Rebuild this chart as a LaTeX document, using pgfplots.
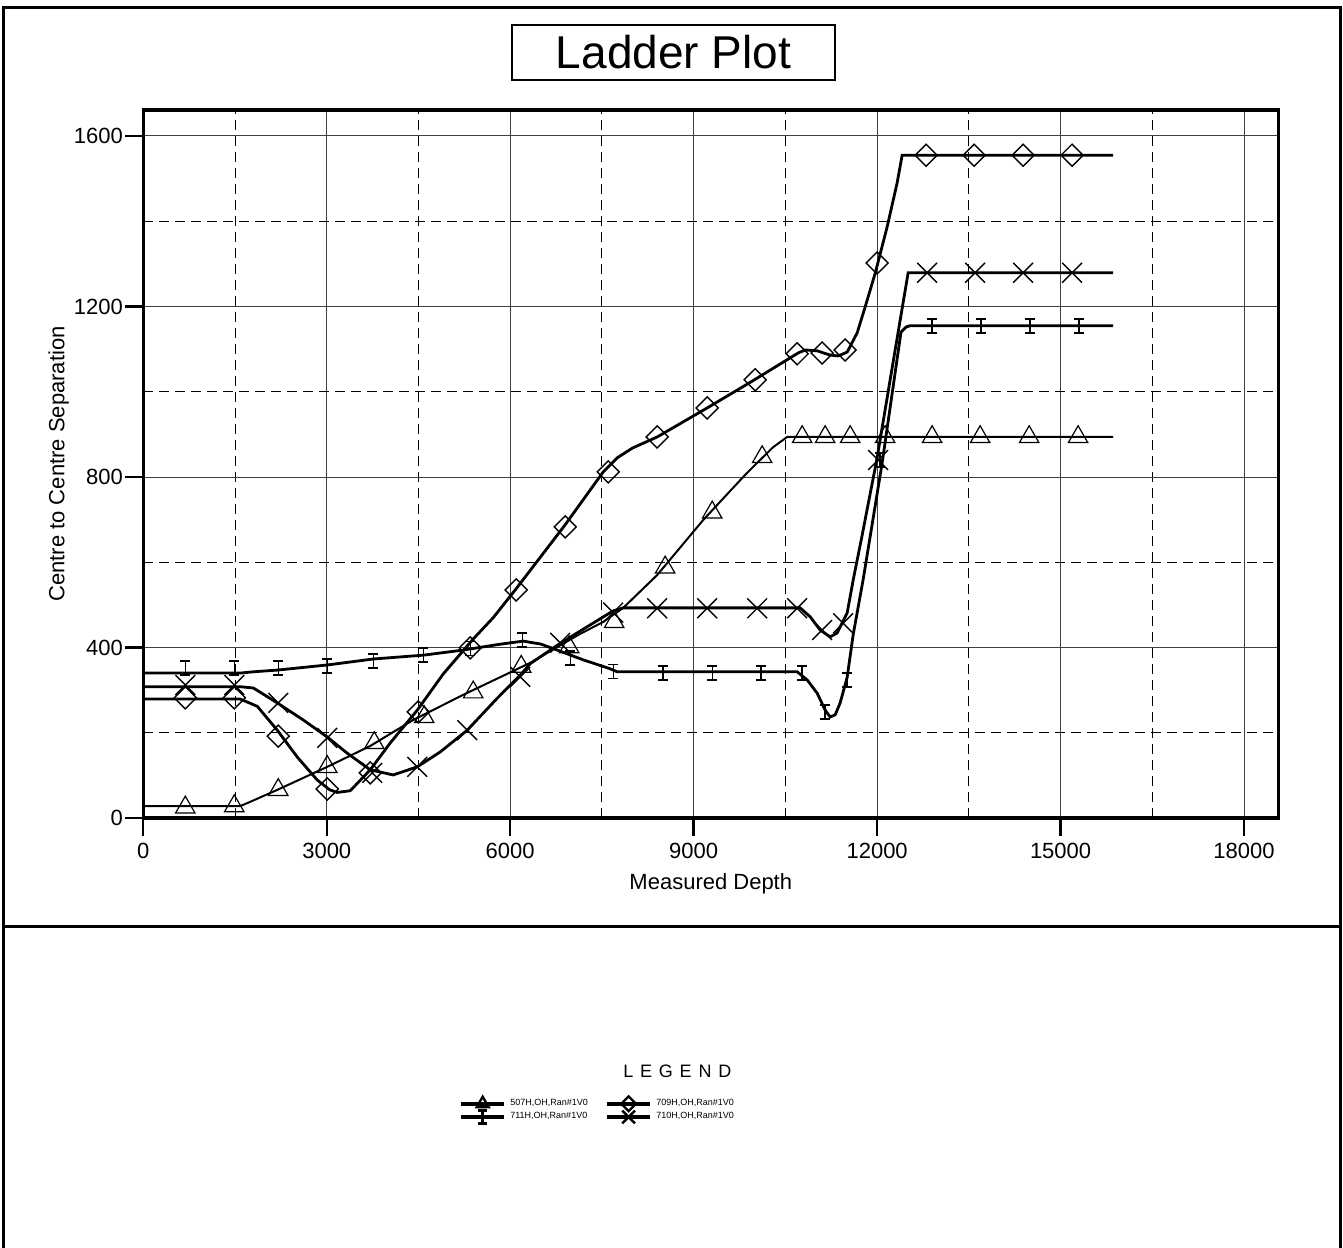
\documentclass[border=0pt]{standalone}
\usepackage{fontspec}
\setmainfont{Liberation Sans}
\usepackage{pgfplots}
\usepackage{pgfplotstable}
\pgfplotsset{compat=1.18}

\pgfdeclareplotmark{ibar}{%
  \pgfpathmoveto{\pgfqpoint{0pt}{-\pgfplotmarksize}}%
  \pgfpathlineto{\pgfqpoint{0pt}{\pgfplotmarksize}}%
  \pgfpathmoveto{\pgfqpoint{-0.7\pgfplotmarksize}{\pgfplotmarksize}}%
  \pgfpathlineto{\pgfqpoint{0.7\pgfplotmarksize}{\pgfplotmarksize}}%
  \pgfpathmoveto{\pgfqpoint{-0.7\pgfplotmarksize}{-\pgfplotmarksize}}%
  \pgfpathlineto{\pgfqpoint{0.7\pgfplotmarksize}{-\pgfplotmarksize}}%
  \pgfusepathqstroke}

% 709H (diamonds)
\pgfplotstableread{
x y
0 279
1586 279
1864 262
2191 206
2518 143
2845 89
3050 66
3172 60
3384 64
3711 113
4038 176
4480 253
4905 338
5395 420
5722 470
6098 538
6899 688
7521 812
7750 845
8000 868
8404 894
9221 962
9924 1022
10709 1091
10823 1098
11019 1096
11232 1086
11363 1084
11510 1093
11673 1138
11804 1199
11968 1278
12164 1387
12327 1490
12409 1555
15859 1555
}\diamline
\pgfplotstableread{
x y
687 282
1488 282
2207 192
3008 68
3711 106
4496 249
5346 399
6098 535
6899 683
7602 812
8403 894
9221 962
10006 1028
10692 1089
11101 1091
11477 1098
12000 1302
12801 1555
13586 1555
14387 1555
15188 1555
}\diammarks

% 710H (crosses)
\pgfplotstableread{
x y
0 308
1586 308
1800 305
2191 270
2616 230
3008 190
3335 152
3711 113
4087 101
4480 120
4856 155
5297 206
5788 281
6164 335
6327 362
6768 405
7194 443
7684 486
7848 493
10741 493
10905 472
11068 441
11232 425
11346 434
11510 481
11608 558
11750 660
12000 845
12250 1060
12507 1279
15859 1279
}\crossline
\pgfplotstableread{
x y
687 312
1488 312
2207 270
3008 188
3744 106
4480 120
5297 206
6164 331
6817 411
7684 482
8403 492
9221 492
10039 492
10692 492
11101 441
11444 457
12016 840
12817 1279
13602 1279
14387 1279
15188 1279
}\crossmarks

% 711H (I-bars)
\pgfplotstableread{
x y
0 340
1586 340
1800 343
2191 347
3008 359
3760 373
4578 382
5232 394
5800 407
6213 415
6500 408
6768 394
7194 371
7635 350
7750 343
10692 343
10856 324
11019 293
11150 253
11232 237
11314 242
11395 270
11510 330
11608 430
11772 560
12082 833
12390 1140
12475 1152
12540 1155
15859 1155
}\ibarline
\pgfplotstableread{
x y
687 352
1488 352
2207 352
3008 357
3760 368
4578 382
5346 397
6196 418
6981 375
7684 343
8501 340
9303 340
10104 340
10774 340
11150 249
11510 324
12049 840
12899 1154
13700 1154
14502 1154
15303 1154
}\ibarmarks

% 507H (triangles)
\pgfplotstableread{
x y
0 28
1586 28
1749 38
2191 66
3008 120
3711 169
4414 230
5232 289
6327 364
6768 401
7145 432
7520 460
7848 493
8403 570
9155 699
9809 800
9973 824
10300 870
10529 894
15859 894
}\triline
\pgfplotstableread{
x y
687 25
1488 28
2207 66
3008 120
3777 176
4594 237
5395 295
6180 355
6964 401
7700 460
8534 588
9303 717
10120 847
10774 894
11150 894
11559 894
12131 894
12899 894
13684 894
14486 894
15286 894
}\trimarks

\begin{document}
\begin{tikzpicture}
\useasboundingbox (-71.65pt,-214.5pt) rectangle (599.85pt,409pt);
\draw[line width=1.5pt] (-69.7pt,-216pt) -- (-69.7pt,405pt) -- (598.35pt,405pt) -- (598.35pt,-216pt);
\draw[line width=1.5pt] (-69.7pt,-54pt) -- (598.35pt,-54pt);
\node[draw, line width=0.6pt, minimum width=161.5pt, minimum height=27.5pt, inner sep=0pt,
      font=\fontsize{23}{27}\selectfont] at (265.1pt,382.75pt) {Ladder Plot};
\node[font=\fontsize{9}{11}\selectfont] at (267pt,-126.5pt) {L\kern3.4pt E\kern3.4pt G\kern3.4pt E\kern3.4pt N\kern3.4pt D};

\begin{axis}[
  scale only axis, width=567.5pt, height=354pt,
  at={(0pt,0pt)}, anchor=south west,
  xmin=0, xmax=18560, ymin=0, ymax=1661,
  xtick={0,3000,...,18000}, ytick={0,400,...,1600},
  minor xtick={1500,4500,...,16500}, minor ytick={200,600,...,1400},
  grid=both,
  major grid style={black!75, line width=0.5pt},
  minor grid style={black, line width=0.5pt, dash pattern=on 5pt off 3pt},
  tick align=outside, tick pos=left,
  major tick length=9pt, minor tick length=0pt,
  every tick/.style={black, line width=1.2pt},
  axis line style={line width=1.6pt},
  scaled ticks=false,
  /pgf/number format/1000 sep={},
  /pgf/number format/assume math mode=true,
  tick label style={font=\fontsize{11}{13}\selectfont},
  xticklabel style={inner sep=1pt, yshift=-2.5pt},
  yticklabel style={inner sep=1pt},
  xlabel={Measured Depth}, ylabel={Centre to Centre Separation},
  label style={font=\fontsize{11}{13}\selectfont},
  xlabel style={at={(axis description cs:0.5,-0.0935)}, anchor=center},
  ylabel style={at={(axis description cs:-0.0745,0.5)}, anchor=center},
  legend columns=2,
  legend style={at={(0.401,-0.413)}, anchor=center, draw=none, fill=none,
    font=\fontsize{4.5}{5}\selectfont,
    /tikz/every even column/.append style={column sep=6.5pt},
    row sep=-2pt},
  legend cell align=left,
  legend image code/.code={\draw[mark repeat=2,mark phase=2,#1] plot coordinates {(0pt,0pt) (10.75pt,0pt) (21.5pt,0pt)};},
]
\addlegendimage{black, line width=2.2pt, mark=triangle, mark size=3.5pt, mark options={solid, line width=1.2pt, fill=white}}
\addlegendentry{507H,OH,Ran\#1V0}
\addlegendimage{black, line width=2.2pt, mark=square, mark size=2.6pt, mark options={solid, rotate=45, line width=1.2pt, fill=white}}
\addlegendentry{709H,OH,Ran\#1V0}
\addlegendimage{black, line width=2.2pt, mark=ibar, mark size=3.2pt, mark options={solid, line width=1.4pt}}
\addlegendentry{711H,OH,Ran\#1V0}
\addlegendimage{black, line width=2.2pt, mark=x, mark size=4.5pt, mark options={solid, line width=1.2pt}}
\addlegendentry{710H,OH,Ran\#1V0}

\addplot[black, line width=1.0pt, forget plot] table {\triline};
\addplot[black, only marks, mark=triangle, mark size=5.6pt, mark options={line width=0.6pt}, forget plot] table {\trimarks};
\addplot[black, line width=1.4pt, forget plot] table {\ibarline};
\addplot[black, only marks, mark=ibar, mark size=3.5pt, mark options={line width=0.7pt}, forget plot] table {\ibarmarks};
\addplot[black, line width=1.4pt, forget plot] table {\crossline};
\addplot[black, only marks, mark=x, mark size=7pt, mark options={line width=0.7pt}, forget plot] table {\crossmarks};
\addplot[black, line width=1.4pt, forget plot] table {\diamline};
\addplot[black, only marks, mark=square, mark size=3.9pt, mark options={rotate=45, line width=0.7pt}, forget plot] table {\diammarks};
\end{axis}
\end{tikzpicture}
\end{document}
